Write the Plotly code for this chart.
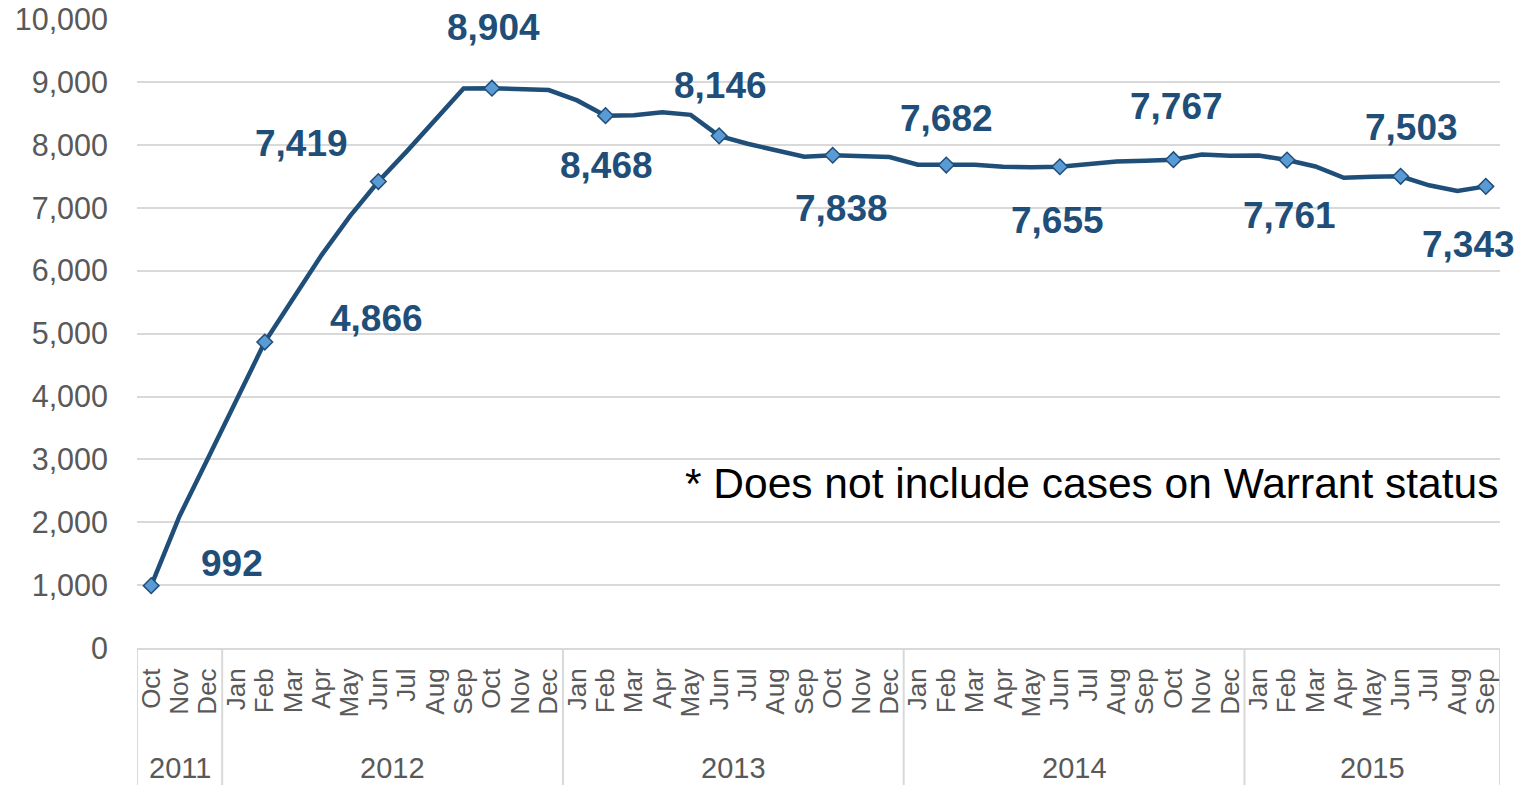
import plotly.graph_objects as go

years = ["2011"] * 3 + ["2012"] * 12 + ["2013"] * 12 + ["2014"] * 12 + ["2015"] * 9
months = (["Oct", "Nov", "Dec"]
          + ["Jan", "Feb", "Mar", "Apr", "May", "Jun", "Jul", "Aug", "Sep", "Oct", "Nov", "Dec"] * 3
          + ["Jan", "Feb", "Mar", "Apr", "May", "Jun", "Jul", "Aug", "Sep"])
cases = [992, 2100, 3020, 3950,
         4866, 5560, 6250, 6870, 7419, 7900, 8400, 8900, 8904, 8895, 8875,
         8710, 8468, 8475, 8520, 8480, 8146, 8020, 7915, 7815, 7838, 7815, 7810,
         7688, 7682, 7688, 7656, 7645, 7655, 7693, 7740, 7750, 7767, 7850, 7830,
         7835, 7761, 7660, 7480, 7495, 7503, 7360, 7270, 7343]

marker_idx = [0, 4, 8, 12, 16, 20, 24, 28, 32, 36, 40, 44, 47]
# pixel offsets of the data labels relative to their markers
label_dx = [81, 112, -77, 2, 1, 1, 9, 0, -2, 3, 2, 11, -17]
label_dy = [22, 24, 38, 61, -50, 50, -53, 47, -54, 53, -55, 49, -58]

note = "* Does not include cases on Warrant status"

LINE = "#1f4e79"
GRID = "#d9d9d9"
TICK = "#595959"
FONT = "Liberation Sans, Arial, sans-serif"

W, H = 1525, 785
ML, MR, MT, MB = 137, 25, 19, 137
PH = H - MT - MB

idx = list(range(len(cases)))

fig = go.Figure()
fig.add_trace(go.Scatter(
    x=idx, y=cases, mode="lines",
    line=dict(color=LINE, width=4.5), hoverinfo="skip", showlegend=False))
fig.add_trace(go.Scatter(
    x=marker_idx, y=[cases[i] for i in marker_idx], mode="markers",
    marker=dict(symbol="diamond", size=12, color="#5b9bd5",
                line=dict(color=LINE, width=1.5)),
    showlegend=False))

for k, i in enumerate(marker_idx):
    fig.add_annotation(x=i, y=cases[i], xref="x", yref="y",
                       text=f"<b>{cases[i]:,}</b>", showarrow=False,
                       xshift=label_dx[k], yshift=label_dy[k],
                       font=dict(family=FONT, size=37, color=LINE))

fig.add_annotation(x=1, y=2620, xref="paper", yref="y", xanchor="right",
                   yanchor="middle", text=note, showarrow=False,
                   font=dict(family=FONT, size=42.5, color="#000000"))

# year groups: labels centred under their months, dividers between groups
groups = []
for i, yv in enumerate(years):
    if not groups or groups[-1][0] != yv:
        groups.append([yv, i, i])
    else:
        groups[-1][2] = i
for yv, a, b in groups:
    fig.add_annotation(x=(a + b) / 2, y=-120 / PH, xref="x", yref="paper",
                       text=yv, showarrow=False, yanchor="middle",
                       font=dict(family=FONT, size=29, color=TICK))
bounds = [g[1] - 0.5 for g in groups] + [groups[-1][2] + 0.5]
for bx in bounds:
    fig.add_shape(type="line", xref="x", yref="paper", x0=bx, x1=bx,
                  y0=0, y1=-MB / PH, line=dict(color=GRID, width=2),
                  layer="below")

fig.update_layout(
    width=W, height=H,
    margin=dict(l=ML, r=MR, t=MT, b=MB),
    paper_bgcolor="white", plot_bgcolor="white",
    font=dict(family=FONT, color=TICK),
    xaxis=dict(range=[-0.5, len(cases) - 0.5], tickmode="array",
               tickvals=idx, ticktext=months, tickangle=-90,
               tickfont=dict(family=FONT, size=26, color=TICK),
               showgrid=False, showline=True, linecolor=GRID, linewidth=2,
               zeroline=False, ticks="", ticklabelstandoff=8,
               automargin=False),
    yaxis=dict(range=[0, 10005], tickmode="linear", tick0=0, dtick=1000,
               tickformat=",", ticklabeloverflow="allow",
               showgrid=True, gridcolor=GRID, gridwidth=2,
               zeroline=False, showline=False, ticks="",
               ticklabelstandoff=28, automargin=False,
               tickfont=dict(family=FONT, size=30.5, color=TICK)),
)

fig.write_html("out.html",
               config={"displayModeBar": False},
               post_script="document.body.style.margin='0';"
                           "document.body.style.overflow='hidden';")
